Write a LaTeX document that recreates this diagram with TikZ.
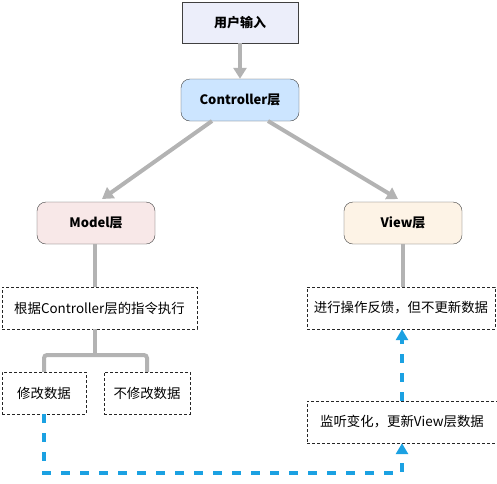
\documentclass[tikz,border=0pt]{standalone}
\usepackage{fontspec}
\setmainfont{Noto Sans CJK SC}
\usetikzlibrary{arrows.meta}
\definecolor{linegray}{HTML}{B3B3B3}
\definecolor{flowblue}{HTML}{1BA1E2}
\tikzset{
  layer/.style={draw=black!75, rounded corners=9pt, minimum width=118pt, minimum height=42pt, font=\bfseries\fontsize{13}{15}\selectfont},
  task/.style={draw=black!85, densely dashed, minimum height=42pt, font=\fontsize{13.4}{15}\selectfont},
  grayline/.style={draw=linegray, line width=4pt},
  grayarrow/.style={grayline, -{Triangle[width=13pt,length=11pt]}},
  bluearrow/.style={draw=flowblue, line width=3.5pt, dash pattern=on 9pt off 10pt, -{Triangle[width=12pt,length=11pt]}}
}
\begin{document}
\begin{tikzpicture}[x=1pt,y=-1pt]
    \useasboundingbox (0,0) rectangle (497,483);
    % boxes
    \node[draw=black!75, fill={rgb,255:red,236;green,238;blue,250}, minimum width=116pt, minimum height=41pt, font=\bfseries\fontsize{13}{15}\selectfont] (input) at (240,22.5) {用户输入};
    \node[layer, fill={rgb,255:red,204;green,229;blue,255}] (ctrl) at (240,100) {Controller层};
    \node[layer, fill={rgb,255:red,248;green,232;blue,232}] (model) at (96,223) {Model层};
    \node[layer, fill={rgb,255:red,253;green,243;blue,230}] (view) at (403,223) {View层};
    \node[task, minimum width=195pt] (exec) at (99.5,308) {根据Controller层的指令执行};
    \node[task, minimum width=188pt] (feedback) at (401,308) {进行操作反馈，但不更新数据};
    \node[task, minimum width=84pt] (modify) at (44,393) {修改数据};
    \node[task, minimum width=86pt] (keep) at (147,393) {不修改数据};
    \node[task, minimum width=190pt] (listen) at (402,422) {监听变化，更新View层数据};
    \coordinate (split) at (95,355);
    \coordinate (corner) at (44,473);
    \coordinate (turn) at (402,473);
    % gray connectors
    \draw[grayarrow] (input) -- (ctrl);
    \draw[grayarrow] (212,121) -- (102,199);
    \draw[grayarrow] (268,121) -- (398,199);
    \draw[grayline] (model.south -| 95,0) -- (exec.north -| 95,0);
    \draw[grayline] (exec.south -| 95,0) -- (split);
    \draw[grayline, rounded corners=3pt] (modify.north) |- (split) -| (keep.north);
    \draw[grayline] (view) -- (feedback.north -| view.south);
    % blue flow
    \draw[bluearrow] (modify.south) -- (corner) -- (turn) -- (listen.south);
    \draw[bluearrow] (listen.north) -- (feedback.south -| listen.north);
\end{tikzpicture}
\end{document}
